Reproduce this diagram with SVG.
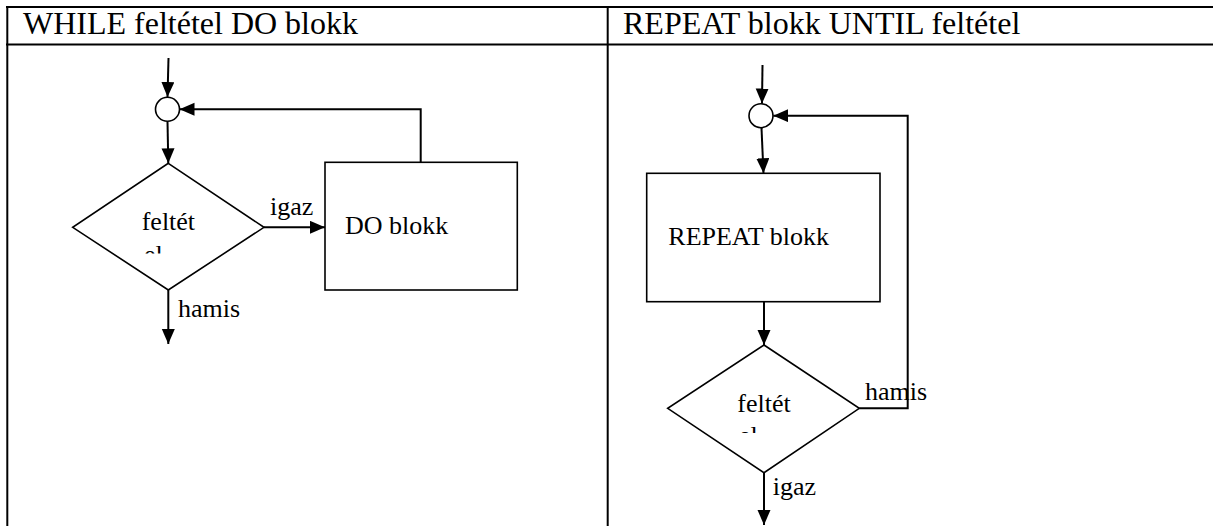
<svg xmlns="http://www.w3.org/2000/svg" width="1213" height="526" viewBox="0 0 1213 526">
  <style>
    .grid { stroke: #000; stroke-width: 2; fill: none; }
    .shape { stroke: #000; stroke-width: 1.6; fill: #fff; }
    .conn { stroke: #000; stroke-width: 2; fill: none; marker-end: url(#arrow); }
    text { font-family: "Liberation Serif", "Times New Roman", serif; fill: #000; }
    .head { font-size: 32px; }
    .lbl { font-size: 26px; }
  </style>
  <defs>
    <marker id="arrow" markerUnits="userSpaceOnUse" markerWidth="16" markerHeight="14" refX="15" refY="6.5" orient="auto">
      <path d="M0,0 L15,6.5 L0,13 z" fill="#000"/>
    </marker>
    <!-- second line of the wrapped condition text shows only its top -->
    <clipPath id="clipL"><rect x="130" y="240" width="80" height="13.5"/></clipPath>
    <clipPath id="clipR"><rect x="725" y="422" width="80" height="11"/></clipPath>
  </defs>

  <!-- table frame -->
  <g id="table">
    <line class="grid" x1="6" y1="7" x2="1213" y2="7"/>
    <line class="grid" x1="6" y1="44.5" x2="1213" y2="44.5"/>
    <line class="grid" x1="7.3" y1="6" x2="7.3" y2="526"/>
    <line class="grid" x1="607.7" y1="6" x2="607.7" y2="526"/>
    <text class="head" x="23" y="34">WHILE feltétel DO blokk</text>
    <text class="head" x="623" y="34">REPEAT blokk UNTIL feltétel</text>
  </g>

  <!-- connectors -->
  <g id="connectors">
    <path class="conn" d="M168.5,58 L167.5,97"/>
    <path class="conn" d="M167.5,121.5 L168.3,163.3"/>
    <path class="conn" d="M264,227.3 L325,227.3"/>
    <path class="conn" d="M420.7,162.3 V109.3 H179.5"/>
    <path class="conn" d="M168.3,290 V344"/>

    <path class="conn" d="M762.5,65 L762,103.5"/>
    <path class="conn" d="M761.5,128 L763.5,173.3"/>
    <path class="conn" d="M764,301.7 V345"/>
    <path class="conn" d="M859.3,408.3 H907.7 V115.7 H773.3"/>
    <path class="conn" d="M764,472.7 V525"/>
  </g>

  <!-- WHILE loop -->
  <g id="while-join">
    <circle class="shape" cx="167.5" cy="109.3" r="12"/>
  </g>
  <g id="while-cond">
    <polygon class="shape" points="168.3,163.3 264,227.3 168.3,290 72.7,227.3"/>
    <text class="lbl" x="141.7" y="230">feltét</text>
    <text class="lbl" x="144" y="263" clip-path="url(#clipL)">el</text>
  </g>
  <g id="while-body">
    <rect class="shape" x="325" y="162.3" width="192.3" height="127.7"/>
    <text class="lbl" x="345" y="234.3">DO blokk</text>
  </g>
  <g id="while-labels">
    <text class="lbl" x="270" y="215">igaz</text>
    <text class="lbl" x="178" y="317.3">hamis</text>
  </g>

  <!-- REPEAT loop -->
  <g id="repeat-join">
    <circle class="shape" cx="761" cy="115.7" r="12"/>
  </g>
  <g id="repeat-body">
    <rect class="shape" x="646.7" y="173.3" width="233.3" height="128.4"/>
    <text class="lbl" x="668.3" y="245">REPEAT blokk</text>
  </g>
  <g id="repeat-cond">
    <polygon class="shape" points="764,345 859.3,408.3 764,472.7 667.7,408.3"/>
    <text class="lbl" x="737.3" y="411.7">feltét</text>
    <text class="lbl" x="739" y="443.5" clip-path="url(#clipR)">el</text>
  </g>
  <g id="repeat-labels">
    <text class="lbl" x="865" y="400">hamis</text>
    <text class="lbl" x="772.7" y="495">igaz</text>
  </g>
</svg>
